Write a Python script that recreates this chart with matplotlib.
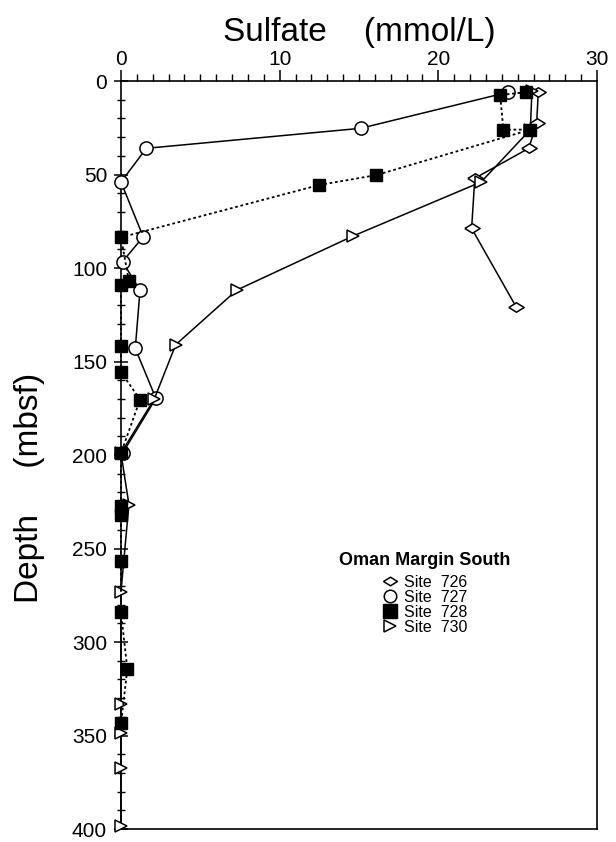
import matplotlib
matplotlib.use('Agg')
import matplotlib.pyplot as plt
from matplotlib.lines import Line2D
from matplotlib.ticker import MultipleLocator

plt.rcParams['font.family'] = ['Liberation Sans', 'DejaVu Sans']

# sulfate (mmol/L) vs depth (mbsf)
site726_sulfate = [26.3, 26.2, 25.7, 22.3, 22.1, 24.9]
site726_depth = [6.0, 22.6, 36.0, 52.0, 78.8, 120.7]

site727_sulfate = [24.4, 15.1, 1.6, 0.0, 1.4, 0.1, 1.2, 0.9, 2.2, 0.1]
site727_depth = [6.0, 25.3, 36.0, 54.0, 83.3, 96.6, 112.0, 143.0, 169.7, 199.0]

site728_sulfate = [25.5, 23.9, 24.1, 25.8, 16.1, 12.5, 0.0, 0.5, 0.0, 0.0,
                   0.0, 1.2, 0.0, 0.0, 0.0, 0.0, 0.0, 0.4, 0.0]
site728_depth = [6.0, 7.5, 26.0, 26.0, 50.3, 55.6, 83.6, 107.0, 109.0, 141.5,
                 155.6, 170.4, 199.0, 227.0, 232.0, 256.5, 284.0, 314.5, 343.5]

site730_sulfate = [25.9, 25.8, 22.7, 14.6, 7.3, 3.45, 2.1, 0.0, 0.5, 0.0,
                   0.0, 0.0, 0.0, 0.0]
site730_depth = [5.5, 26.0, 54.0, 83.0, 111.8, 141.0, 170.0, 199.0, 226.5,
                 273.0, 333.0, 348.5, 367.5, 398.3]

legend_title = 'Oman Margin South'
site_labels = ['Site  726', 'Site  727', 'Site  728', 'Site  730']

# wide, flat diamond like the original symbol
flat_diamond = [(-1, 0), (0, 0.62), (1, 0), (0, -0.62), (-1, 0)]

fig = plt.figure(figsize=(6.16, 8.42), dpi=100)
ax = fig.add_axes([0.1964, 0.0154, 0.7727, 0.8884])

ax.plot(site726_sulfate, site726_depth, color='black', linewidth=1.1,
        marker=flat_diamond, markersize=11, markerfacecolor='white',
        markeredgecolor='black', markeredgewidth=1.1, clip_on=False, zorder=3)
ax.plot(site727_sulfate, site727_depth, color='black', linewidth=1.1,
        marker='o', markersize=9.5, markerfacecolor='white',
        markeredgecolor='black', markeredgewidth=1.1, clip_on=False, zorder=3)
ax.plot(site728_sulfate, site728_depth, color='black', linewidth=1.3,
        linestyle=(0, (1.5, 1.5)), marker='s', markersize=8,
        markerfacecolor='black', markeredgecolor='black', clip_on=False, zorder=4)
ax.plot(site730_sulfate, site730_depth, color='black', linewidth=1.1,
        marker='>', markersize=8, markerfacecolor='white',
        markeredgecolor='black', markeredgewidth=1.1, clip_on=False, zorder=3)

ax.set_xlim(0, 30)
ax.set_ylim(400, 0)

# x axis on top
ax.xaxis.set_ticks_position('top')
ax.xaxis.set_label_position('top')
ax.xaxis.set_major_locator(MultipleLocator(10))
ax.xaxis.set_minor_locator(MultipleLocator(1))
ax.tick_params(axis='x', which='major', direction='out', length=8, width=1.1,
               labelsize=15, pad=1)
ax.tick_params(axis='x', which='minor', direction='out', length=5, width=1.0)

ax.yaxis.set_major_locator(MultipleLocator(50))
ax.yaxis.set_minor_locator(MultipleLocator(10))
ax.tick_params(axis='y', which='major', direction='inout', length=10, width=1.1,
               labelsize=15, pad=5)
ax.tick_params(axis='y', which='minor', direction='inout', length=6, width=1.0)

for spine in ax.spines.values():
    spine.set_linewidth(1.2)

ax.set_xlabel('Sulfate    (mmol/L)', fontsize=24, labelpad=6)
ax.set_ylabel('Depth     (mbsf)', fontsize=24)
ax.yaxis.set_label_coords(-0.16, 0.456)

handles = [
    Line2D([], [], linestyle='none', marker=flat_diamond, markersize=10,
           markerfacecolor='white', markeredgecolor='black', markeredgewidth=1.1),
    Line2D([], [], linestyle='none', marker='o', markersize=9,
           markerfacecolor='white', markeredgecolor='black', markeredgewidth=1.1),
    Line2D([], [], linestyle='none', marker='s', markersize=9.5,
           markerfacecolor='black', markeredgecolor='black'),
    Line2D([], [], linestyle='none', marker='>', markersize=8,
           markerfacecolor='white', markeredgecolor='black', markeredgewidth=1.1),
]
leg = ax.legend(handles, site_labels, title=legend_title, loc='upper center',
                bbox_to_anchor=(0.638, 0.381), frameon=False, fontsize=11.5,
                handlelength=1.0, handletextpad=0.4, labelspacing=0.0,
                borderpad=0, title_fontproperties={'weight': 'bold', 'size': 13})
leg._legend_box.sep = 4

fig.savefig('out.png', dpi=100)
